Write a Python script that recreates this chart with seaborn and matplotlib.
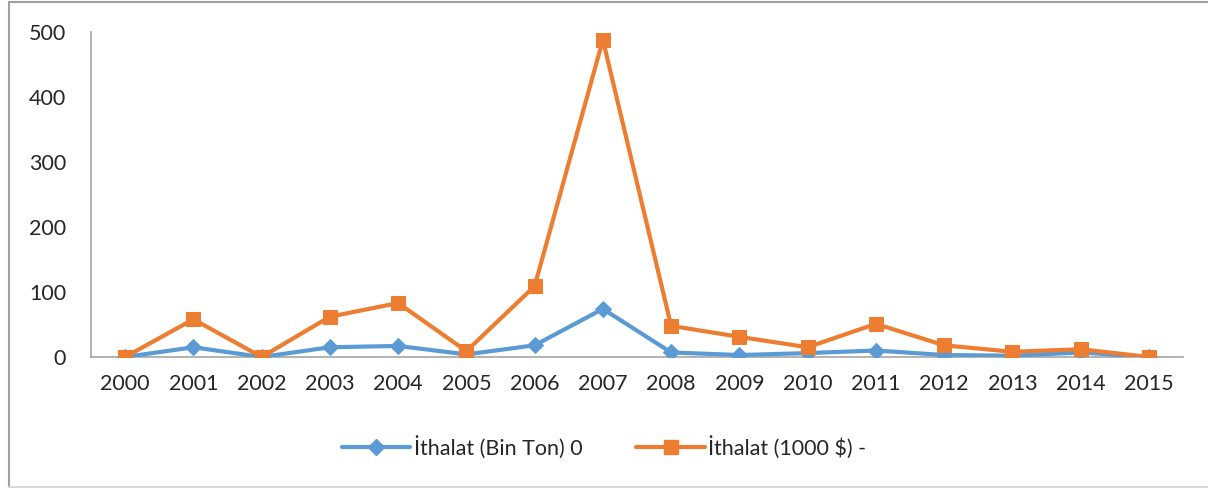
import matplotlib
matplotlib.use("Agg")
import matplotlib.pyplot as plt
import seaborn as sns
import pandas as pd
from matplotlib.lines import Line2D

years = ["2000", "2001", "2002", "2003", "2004", "2005", "2006", "2007",
         "2008", "2009", "2010", "2011", "2012", "2013", "2014", "2015"]
ithalat_ton = [0, 15, 0, 15, 17, 4, 18, 74, 7, 3, 6, 10, 3, 2, 7, 0]
ithalat_usd = [0, 58, 0, 62, 83, 9, 109, 488, 48, 31, 15, 51, 18, 8, 12, 0]
label_ton = "İthalat (Bin Ton) 0"
label_usd = "İthalat (1000 $) -"
y_ticks = [0, 100, 200, 300, 400, 500]

sns.set_style("white")
plt.rcParams['font.family'] = ['Lato', 'DejaVu Sans']

W, H = 1208, 488
fig = plt.figure(figsize=(W / 100, H / 100), dpi=100)
ax = fig.add_axes([91 / W, 1 - 357 / H, (1183 - 91) / W, (357 - 32) / H])

df = pd.DataFrame({"x": range(len(years)), "ton": ithalat_ton, "usd": ithalat_usd})
blue = "#5B9BD5"
orange = "#ED7D31"
sns.lineplot(data=df, x="x", y="ton", ax=ax, color=blue, lw=3, marker="D",
             markersize=8, markeredgecolor=blue, zorder=3)
sns.lineplot(data=df, x="x", y="usd", ax=ax, color=orange, lw=3, marker="s",
             markersize=10, markeredgecolor=orange, zorder=4)

fs = 15.5
ax.set_xlim(-0.5, len(years) - 0.5)
ax.set_ylim(0, 500)
ax.set_yticks(y_ticks)
ax.set_yticklabels([str(v) for v in y_ticks], fontsize=fs)
ax.set_xticks(range(len(years)))
ax.set_xticklabels(years, fontsize=fs)
ax.set_xticks([i - 0.5 for i in range(len(years) + 1)], minor=True)
ax.tick_params(axis="x", which="major", length=0, pad=12)
ax.tick_params(axis="x", which="minor", length=6, color="#A6A6A6", direction="out")
ax.tick_params(axis="y", which="major", length=6, color="#A6A6A6", direction="out", pad=12)
ax.set_xlabel("")
ax.set_ylabel("")
for s in ["top", "right"]:
    ax.spines[s].set_visible(False)
for s in ["left", "bottom"]:
    ax.spines[s].set_color("#A6A6A6")
    ax.spines[s].set_linewidth(1.2)
if ax.get_legend():
    ax.get_legend().remove()

handles = [
    Line2D([], [], color=blue, lw=3, marker="D", markersize=8, markeredgecolor=blue),
    Line2D([], [], color=orange, lw=3, marker="s", markersize=10, markeredgecolor=orange),
]
fig.legend(handles, [label_ton, label_usd], loc="center", bbox_to_anchor=(0.5, 1 - 447 / H),
           ncol=2, frameon=False, fontsize=fs, handlelength=3.2, columnspacing=2.5,
           handletextpad=0.15)

# outer chart border
fig.add_artist(Line2D([9 / W, 1], [1 - 2 / H, 1 - 2 / H], transform=fig.transFigure,
                      color="#A0A0A0", lw=1.5))
fig.add_artist(Line2D([9 / W, 9 / W], [1 - 2 / H, 1 - 487 / H], transform=fig.transFigure,
                      color="#A0A0A0", lw=1.5))
fig.add_artist(Line2D([9 / W, 1], [1 - 487 / H, 1 - 487 / H], transform=fig.transFigure,
                      color="#D9D9D9", lw=1.5))

fig.savefig("out.png", dpi=100)
